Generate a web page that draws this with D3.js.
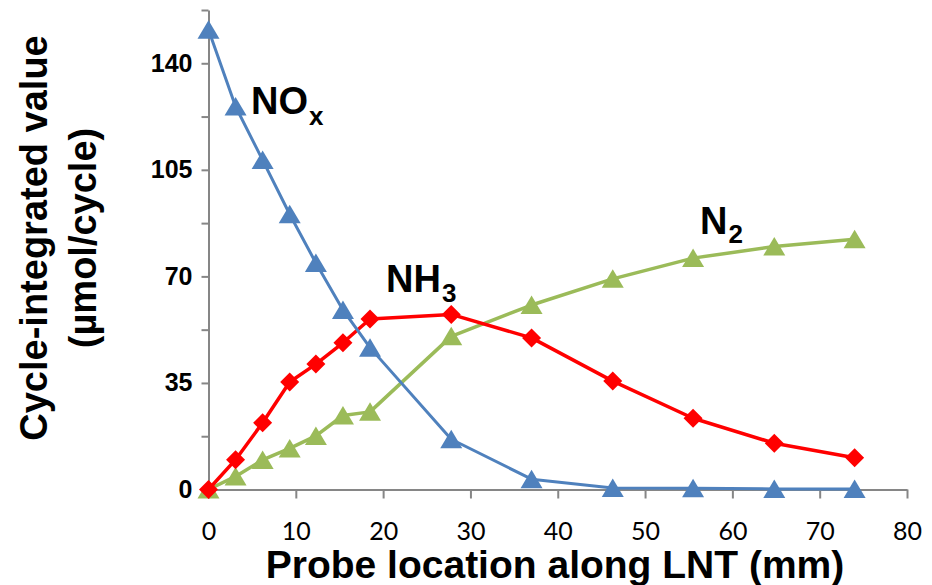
<!DOCTYPE html>
<html>
<head>
<meta charset="utf-8">
<script src="https://cdn.jsdelivr.net/npm/d3@7"></script>
<style>
  body { margin: 0; background: #fff; }
  svg { display: block; }
</style>
</head>
<body>
<div id="chart"></div>
<script>
// probe positions along the LNT (mm)
const positions = [0, 3.1, 6.2, 9.3, 12.3, 15.4, 18.5, 27.8, 37.0, 46.3, 55.5, 64.8, 74.0];
const noxValues = [151, 125.8, 108.2, 90.4, 74.4, 59.0, 46.6, 16.5, 3.4, 0.5, 0.4, 0.2, 0.2];
const nh3Values = [0, 9.8, 21.9, 35.3, 41.2, 48.2, 56.0, 57.5, 49.8, 35.6, 23.4, 15.2, 10.4];
const n2Values = [0, 4.3, 9.7, 13.5, 17.6, 24.3, 25.5, 50.3, 60.6, 69.2, 76.0, 79.8, 82.2];

const xTicks = [0, 10, 20, 30, 40, 50, 60, 70, 80];
const yTicks = [0, 17.5, 35, 52.5, 70, 87.5, 105, 122.5, 140, 157.5];
const yTickLabels = [0, 35, 70, 105, 140];

const WIDTH = 932;
const HEIGHT = 585;
const AXIS_GRAY = "#868686";
const BOLD_FONT = "'Liberation Sans', Arial, sans-serif";

const svg = d3.select("#chart")
    .append("svg")
    .attr("width", WIDTH)
    .attr("height", HEIGHT)

const x = d3.scaleLinear().domain([0, 80]).range([208.5, 907])
const y = d3.scaleLinear().domain([0, 157.5]).range([489.5, 10])

// axes
const xAxis = svg.append("g")
    .attr("transform", `translate(0, ${y(0)})`)
    .call(d3.axisBottom(x).tickValues(xTicks).tickSize(9).tickSizeOuter(0))
xAxis.selectAll("text")
    .attr("y", 50).attr("dy", 0)
    .style("font-family", "Lato, 'Open Sans', sans-serif")
    .style("font-size", "25px")
    .attr("fill", "#000")

const yAxis = svg.append("g")
    .attr("transform", `translate(${x(0)}, 0)`)
    .call(d3.axisLeft(y).tickValues(yTicks).tickSize(7).tickPadding(9).tickSizeOuter(0)
        .tickFormat(d => yTickLabels.includes(d) ? d : ""))
yAxis.selectAll("text")
    .style("font-family", BOLD_FONT)
    .style("font-weight", "bold")
    .style("font-size", "25px")
    .attr("fill", "#000")

svg.selectAll(".domain, .tick line")
    .attr("stroke", AXIS_GRAY)
    .attr("stroke-width", 2)

// axis titles
svg.append("text")
    .attr("x", 555)
    .attr("y", 578)
    .attr("text-anchor", "middle")
    .style("font-family", BOLD_FONT)
    .style("font-weight", "bold")
    .style("font-size", "39px")
    .text("Probe location along LNT (mm)")

const yTitle = svg.append("text")
    .attr("transform", "translate(47, 238) rotate(-90)")
    .attr("text-anchor", "middle")
    .style("font-family", BOLD_FONT)
    .style("font-weight", "bold")
    .style("font-size", "38px")
yTitle.append("tspan").attr("x", 0).attr("y", 0).text("Cycle-integrated value")
yTitle.append("tspan").attr("x", 0).attr("y", 49).text("(\u00b5mol/cycle)")

// series
const series = [
    { name: "N2", values: n2Values, color: "#9BBB59", marker: "triangle", width: 3.5 },
    { name: "NH3", values: nh3Values, color: "#FF0000", marker: "diamond", width: 3.5 },
    { name: "NOx", values: noxValues, color: "#4F81BD", marker: "triangle", width: 3 }
]

const line = d3.line()
    .x((d, i) => x(positions[i]))
    .y(d => y(d))

const triangle = "M0,-9.5L11,9L-11,9Z"
const diamond = "M0,-9.5L9.5,0L0,9.5L-9.5,0Z"

series.forEach(s => {
    const g = svg.append("g")
    g.append("path")
        .datum(s.values)
        .attr("fill", "none")
        .attr("stroke", s.color)
        .attr("stroke-width", s.width)
        .attr("stroke-linejoin", "round")
        .attr("d", line)
    g.selectAll("path.marker")
        .data(s.values)
        .enter().append("path")
        .attr("class", "marker")
        .attr("transform", (d, i) => `translate(${x(positions[i])}, ${y(d)})`)
        .attr("d", s.marker == "triangle" ? triangle : diamond)
        .attr("fill", s.color)
})

// series labels
function seriesLabel(px, py, main, sub, subDy) {
    const t = svg.append("text")
        .attr("x", px)
        .attr("y", py)
        .style("font-family", BOLD_FONT)
        .style("font-weight", "bold")
        .style("font-size", "38px")
    t.append("tspan").text(main)
    t.append("tspan")
        .attr("dx", 1)
        .attr("dy", subDy)
        .style("font-size", "26px")
        .text(sub)
}

seriesLabel(251, 114, "NO", "x", 11)
seriesLabel(386, 292, "NH", "3", 10)
seriesLabel(700, 234, "N", "2", 9)
</script>
</body>
</html>
